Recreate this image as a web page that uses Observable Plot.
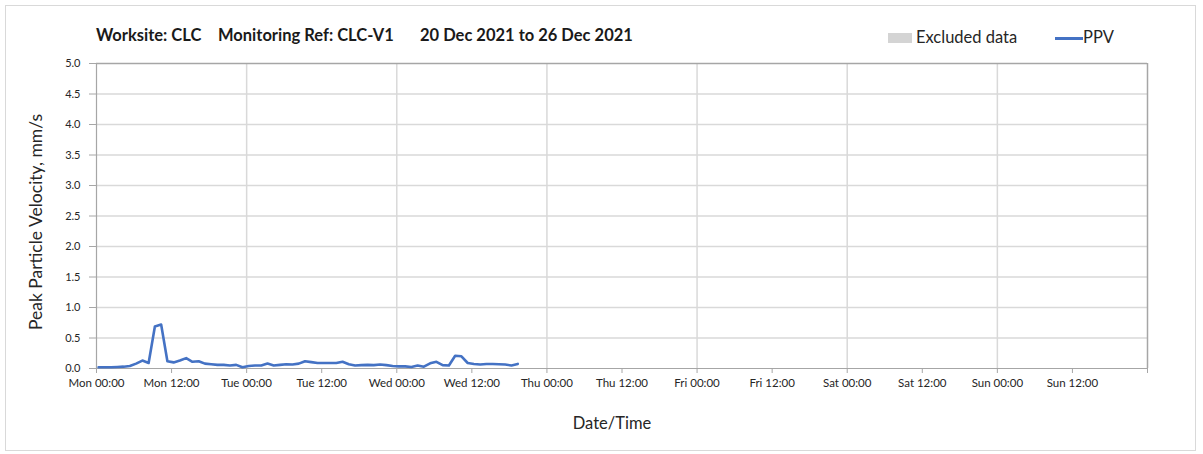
<!DOCTYPE html>
<html>
<head>
<meta charset="utf-8">
<script src="https://cdn.jsdelivr.net/npm/d3@7"></script>
<script src="https://cdn.jsdelivr.net/npm/@observablehq/plot@0.6"></script>
<style>
  html, body { margin: 0; padding: 0; background: #fff; }
  body { width: 1203px; height: 454px; position: relative; overflow: hidden; font-family: Lato, "Open Sans", sans-serif; color: #262626; }
  #border { position: absolute; left: 5px; top: 5px; width: 1191px; height: 446px; border: 1px solid #d9d9d9; box-sizing: border-box; }
  #chart { position: absolute; left: 0; top: 0; }
  .t { position: absolute; white-space: pre; }
  .title { font-weight: bold; font-size: 16.5px; top: 25px; color: #1a1a1a; }
  .leg { font-size: 16.5px; top: 27px; color: #262626; }
  #ylab { position: absolute; left: 35px; top: 222px; transform: translate(-50%, -50%) rotate(-90deg); font-size: 17.5px; white-space: nowrap; color: #262626; }
  #xlab { position: absolute; left: 612px; top: 423px; transform: translate(-50%, -50%); font-size: 16.5px; color: #262626; }
</style>
</head>
<body>
<div id="border"></div>
<div id="chart"></div>
<div class="t title" style="left:96px">Worksite: CLC</div>
<div class="t title" style="left:218px">Monitoring Ref: CLC-V1</div>
<div class="t title" style="left:420px">20 Dec 2021 to 26 Dec 2021</div>
<div style="position:absolute;left:888px;top:33px;width:24px;height:10px;background:#d4d4d4"></div>
<div class="t leg" style="left:916px">Excluded data</div>
<div style="position:absolute;left:1055px;top:37px;width:28px;height:3px;background:#4472C4"></div>
<div class="t leg" style="left:1083px">PPV</div>
<div id="ylab">Peak Particle Velocity, mm/s</div>
<div id="xlab">Date/Time</div>
<script>
// Series: hourly PPV readings (mm/s), first reading at Mon 20 Dec 2021 00:20
const seriesStart = "2021-12-20T00:20:00Z";
const ppv = [
  0.02, 0.02, 0.02, 0.025, 0.03, 0.04, 0.08, 0.13, 0.09, 0.69,
  0.72, 0.12, 0.10, 0.13, 0.17, 0.11, 0.12, 0.08, 0.07, 0.06,
  0.06, 0.05, 0.06, 0.02, 0.04, 0.05, 0.05, 0.08, 0.05, 0.06,
  0.07, 0.065, 0.08, 0.12, 0.105, 0.09, 0.09, 0.09, 0.09, 0.11,
  0.07, 0.05, 0.055, 0.06, 0.055, 0.065, 0.055, 0.04, 0.035, 0.035,
  0.025, 0.05, 0.03, 0.085, 0.11, 0.055, 0.05, 0.21, 0.20, 0.09,
  0.075, 0.065, 0.075, 0.075, 0.07, 0.065, 0.05, 0.075
];
const xDomain = ["2021-12-20T00:00:00Z", "2021-12-27T00:00:00Z"];
const xTickTimes = [
  "2021-12-20T00:00:00Z", "2021-12-20T12:00:00Z",
  "2021-12-21T00:00:00Z", "2021-12-21T12:00:00Z",
  "2021-12-22T00:00:00Z", "2021-12-22T12:00:00Z",
  "2021-12-23T00:00:00Z", "2021-12-23T12:00:00Z",
  "2021-12-24T00:00:00Z", "2021-12-24T12:00:00Z",
  "2021-12-25T00:00:00Z", "2021-12-25T12:00:00Z",
  "2021-12-26T00:00:00Z", "2021-12-26T12:00:00Z"
];
const dayGridTimes = [
  "2021-12-21T00:00:00Z", "2021-12-22T00:00:00Z", "2021-12-23T00:00:00Z",
  "2021-12-24T00:00:00Z", "2021-12-25T00:00:00Z", "2021-12-26T00:00:00Z"
];
const yTicks = [0, 0.5, 1, 1.5, 2, 2.5, 3, 3.5, 4, 4.5, 5];

const t0 = Date.parse(seriesStart);
const data = ppv.map((v, i) => ({t: new Date(t0 + i * 3600e3), v}));
const dom = xDomain.map(d => new Date(d));
const xt = xTickTimes.map(d => new Date(d));
const dg = dayGridTimes.map(d => new Date(d));

const chart = Plot.plot({
  width: 1203,
  height: 454,
  marginLeft: 96,
  marginRight: 56,
  marginTop: 63,
  marginBottom: 86,
  style: {fontFamily: "Lato, 'Open Sans', sans-serif", fontSize: "11.5px", background: "transparent", overflow: "visible"},
  x: {type: "utc", domain: dom, label: null},
  y: {domain: [0, 5], label: null},
  marks: [
    Plot.ruleY(yTicks.filter(d => d > 0 && d < 5), {stroke: "#d9d9d9", strokeWidth: 1.5}),
    Plot.ruleX(dg, {stroke: "#d9d9d9", strokeWidth: 1.5}),
    Plot.ruleY([5], {stroke: "#a6a6a6", strokeWidth: 1.5}),
    Plot.ruleX([dom[1]], {stroke: "#a6a6a6", strokeWidth: 1.5}),
    Plot.ruleX([dom[0]], {stroke: "#a6a6a6", strokeWidth: 1.2}),
    Plot.ruleY([0], {stroke: "#a6a6a6", strokeWidth: 1.2}),
    Plot.axisX(xt.concat([dom[1]]), {tickFormat: d => +d === +dom[1] ? "" : d3.utcFormat("%a %H:%M")(d), tickSize: 5, tickPadding: 5, stroke: "#a6a6a6", fill: "#262626", label: null, fontSize: 11.5}),
    Plot.axisY(yTicks, {tickFormat: d => d.toFixed(1), tickSize: 7, tickPadding: 9, stroke: "#a6a6a6", fill: "#262626", label: null, fontSize: 11}),
    Plot.line(data, {x: "t", y: "v", stroke: "#4472C4", strokeWidth: 2.6, strokeLinejoin: "round"})
  ]
});
document.getElementById("chart").appendChild(chart);
</script>
</body>
</html>
